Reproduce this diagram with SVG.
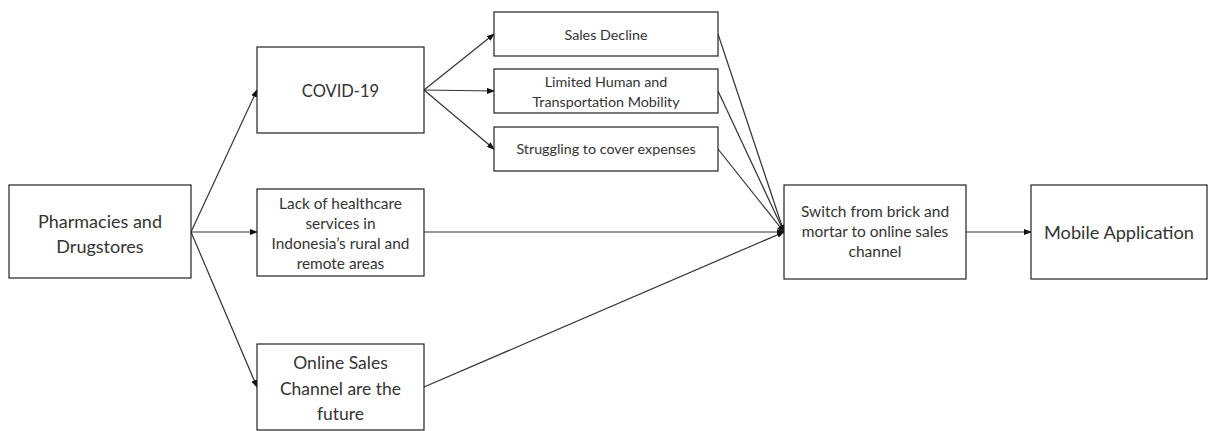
<svg xmlns="http://www.w3.org/2000/svg" width="1208" height="431" viewBox="0 0 1208 431">
<defs>
<marker id="ah" markerWidth="8" markerHeight="6" refX="7" refY="3" orient="auto" markerUnits="userSpaceOnUse">
<path d="M0,0 L8,3 L0,6 z" fill="#111"/>
</marker>
<style>
.box{fill:#fff;stroke:#222;stroke-width:1.2}
.t{font-family:Lato,"Open Sans",sans-serif;fill:#333;text-anchor:middle}
.c{stroke:#333;stroke-width:1.2;fill:none;marker-end:url(#ah)}
</style>
</defs>
<rect width="1208" height="431" fill="#fff"/>
<g id="connectors">
<line class="c" x1="191" y1="232" x2="257" y2="90"/>
<line class="c" x1="191" y1="232" x2="257" y2="232"/>
<line class="c" x1="191" y1="232" x2="257" y2="387"/>
<line class="c" x1="424" y1="90" x2="494" y2="34"/>
<line class="c" x1="424" y1="90" x2="494" y2="91"/>
<line class="c" x1="424" y1="90" x2="494" y2="149"/>
<line class="c" x1="718" y1="34" x2="784" y2="232"/>
<line class="c" x1="718" y1="91" x2="784" y2="232"/>
<line class="c" x1="718" y1="149" x2="784" y2="232"/>
<line class="c" x1="424" y1="232" x2="784" y2="232"/>
<line class="c" x1="424" y1="387" x2="784" y2="232"/>
<line class="c" x1="966" y1="232" x2="1031" y2="232"/>
</g>
<g id="pharmacies">
<rect class="box" x="9" y="185" width="182" height="93"/>
<text class="t" font-size="18"><tspan x="100" y="228">Pharmacies and</tspan><tspan x="100" y="253">Drugstores</tspan></text>
</g>
<g id="covid">
<rect class="box" x="257" y="47" width="167" height="86"/>
<text class="t" font-size="16.5" x="340.5" y="97">COVID-19</text>
</g>
<g id="lack">
<rect class="box" x="257" y="189" width="167" height="87"/>
<text class="t" font-size="15.4"><tspan x="340.5" y="209">Lack of healthcare</tspan><tspan x="340.5" y="229">services in</tspan><tspan x="340.5" y="249">Indonesia’s rural and</tspan><tspan x="340.5" y="269">remote areas</tspan></text>
</g>
<g id="online">
<rect class="box" x="257" y="344" width="167" height="86"/>
<text class="t" font-size="17.5"><tspan x="340.5" y="369">Online Sales</tspan><tspan x="340.5" y="395">Channel are the</tspan><tspan x="340.5" y="420">future</tspan></text>
</g>
<g id="sales-decline">
<rect class="box" x="494" y="12" width="224" height="44"/>
<text class="t" font-size="14.3" x="606" y="40">Sales Decline</text>
</g>
<g id="limited">
<rect class="box" x="494" y="69" width="224" height="44"/>
<text class="t" font-size="14.3"><tspan x="606" y="87">Limited Human and</tspan><tspan x="606" y="107">Transportation Mobility</tspan></text>
</g>
<g id="struggling">
<rect class="box" x="494" y="127" width="224" height="44"/>
<text class="t" font-size="14.3" x="606" y="154">Struggling to cover expenses</text>
</g>
<g id="switch">
<rect class="box" x="784" y="185" width="182" height="94"/>
<text class="t" font-size="15.5"><tspan x="875" y="217">Switch from brick and</tspan><tspan x="875" y="237">mortar to online sales</tspan><tspan x="875" y="257">channel</tspan></text>
</g>
<g id="mobile">
<rect class="box" x="1031" y="185" width="176" height="94"/>
<text class="t" font-size="18.2" x="1119" y="239">Mobile Application</text>
</g>
</svg>
